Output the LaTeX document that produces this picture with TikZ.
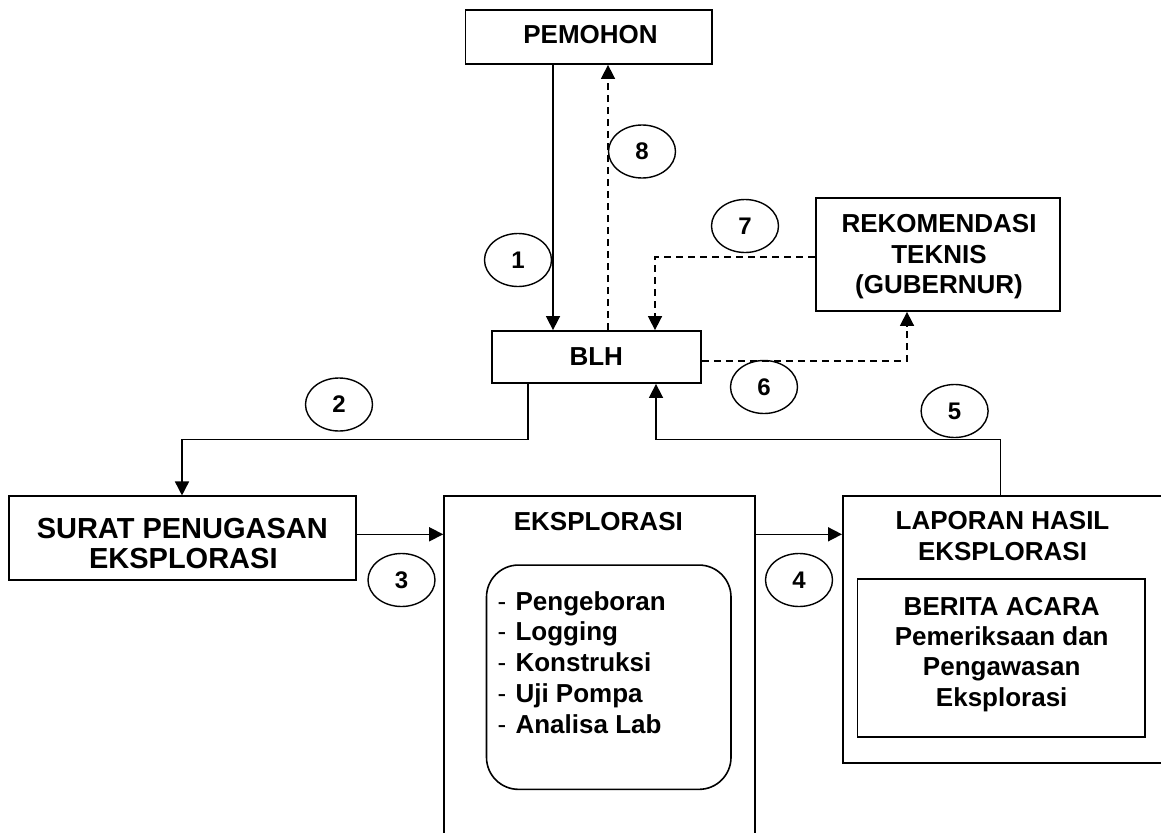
\documentclass[tikz,border=0pt]{standalone}
\usepackage{fontspec}
\setmainfont{Liberation Sans}
\usetikzlibrary{arrows.meta,shapes.geometric}
\begin{document}
\begin{tikzpicture}[x=1pt,y=-1pt,
  box/.style={draw, line width=1.8pt, rectangle, inner sep=0pt},
  num/.style={draw, ellipse, line width=1.4pt, minimum width=67pt, minimum height=53pt, inner sep=0pt, font=\fontsize{24}{27}\selectfont\bfseries},
  txt/.style={inner sep=0pt, anchor=base, font=\fontsize{26}{30}\selectfont\bfseries},
  big/.style={inner sep=0pt, anchor=base, font=\fontsize{29}{32}\selectfont\bfseries},
  item/.style={inner sep=0pt, anchor=base west, font=\fontsize{26}{30}\selectfont\bfseries},
  conn/.style={line width=1.6pt, -{Triangle[length=14pt,width=14pt]}},
  dconn/.style={conn, dash pattern=on 7pt off 5pt},
]
\useasboundingbox (0,0) rectangle (1161,832);
\clip (0,0) rectangle (1161,832);

% boxes
\node[box, minimum width=246.6pt, minimum height=54pt] (pem) at (588.7,37) {};
\node[txt] (pemt) at (590.5,43.3) {PEMOHON};

\node[box, minimum width=209pt, minimum height=52pt] (blh) at (596.5,357) {};
\node[txt] (blht) at (596.3,365) {BLH};

\node[box, minimum width=244.3pt, minimum height=113pt] (rek) at (937.9,254.5) {};
\node[txt] (rekt1) at (939,232.7) {REKOMENDASI};
\node[txt] (rekt2) at (939,263.3) {TEKNIS};
\node[txt] (rekt3) at (939,293.3) {(GUBERNUR)};

\node[box, minimum width=346.8pt, minimum height=83.7pt] (surat) at (182.6,538.2) {};
\node[big] (surt1) at (182.3,538.3) {SURAT PENUGASAN};
\node[big] (surt2) at (183.3,568.3) {EKSPLORASI};

\node[box, minimum width=310.8pt, minimum height=400pt, anchor=north west] (eks) at (443.2,495) {};
\node[txt] (ekst) at (598.3,530) {EKSPLORASI};
\node[box, rounded corners=32pt, line width=1.6pt, minimum width=244.5pt, minimum height=224.3pt] (lst) at (608.75,677.2) {};
\node[item] (li1) at (497.3,610) {\textmd{-}\hspace{9.4pt}Pengeboran};
\node[item] (li2) at (497.3,640) {\textmd{-}\hspace{9.4pt}Logging};
\node[item] (li3) at (497.3,671) {\textmd{-}\hspace{9.4pt}Konstruksi};
\node[item] (li4) at (497.3,702) {\textmd{-}\hspace{9.4pt}Uji Pompa};
\node[item] (li5) at (497.3,733) {\textmd{-}\hspace{9.4pt}Analisa Lab};

\node[box, minimum width=340pt, minimum height=266.7pt, anchor=north west] (lap) at (842,495) {};
\node[txt] (lapt1) at (1002.5,529.3) {LAPORAN HASIL};
\node[txt] (lapt2) at (1002.5,560) {EKSPLORASI};
\node[box, minimum width=287.8pt, minimum height=157.4pt] (ber) at (1001.4,658) {};
\node[txt] (bert1) at (1001.7,615) {BERITA ACARA};
\node[txt] (bert2) at (1001.7,645) {Pemeriksaan dan};
\node[txt] (bert3) at (1001.7,675) {Pengawasan};
\node[txt] (bert4) at (1001.7,706.7) {Eksplorasi};

% number ellipses
\node[num] (n1) at (518,260) {1};
\node[num] (n2) at (339,404.5) {2};
\node[num] (n3) at (401.5,580) {3};
\node[num] (n4) at (799,580) {4};
\node[num] (n5) at (954.6,411) {5};
\node[num] (n6) at (764,387) {6};
\node[num] (n7) at (745,226) {7};
\node[num] (n8) at (642,151.5) {8};

% guide coordinates
\coordinate (c1) at (553,0);
\coordinate (c8) at (608,0);
\coordinate (c7) at (655,0);
\coordinate (c6) at (907,0);
\coordinate (c2) at (528,0);
\coordinate (c2b) at (182,0);
\coordinate (c5) at (656,0);
\coordinate (c5b) at (1000.6,0);
\coordinate (hr) at (0,439.3);
\coordinate (y7) at (0,257);
\coordinate (y6) at (0,361);
\coordinate (r34) at (0,534.3);

% connectors
\draw[conn] (pem.south -| c1) -- (blh.north -| c1);
\draw[dconn] (blh.north -| c8) -- (pem.south -| c8);
\draw[dconn] (rek.west |- y7) -| (blh.north -| c7);
\draw[dconn] (blh.east |- y6) -| (rek.south -| c6);
\draw[conn] (blh.south -| c2) -- (hr -| c2) -- (hr -| c2b) -- (surat.north -| c2b);
\draw[conn] (lap.north -| c5b) -- (hr -| c5b) -- (hr -| c5) -- (blh.south -| c5);
\draw[conn] (surat.east |- r34) -- (eks.west |- r34);
\draw[conn] (eks.east |- r34) -- (lap.west |- r34);
\end{tikzpicture}
\end{document}
